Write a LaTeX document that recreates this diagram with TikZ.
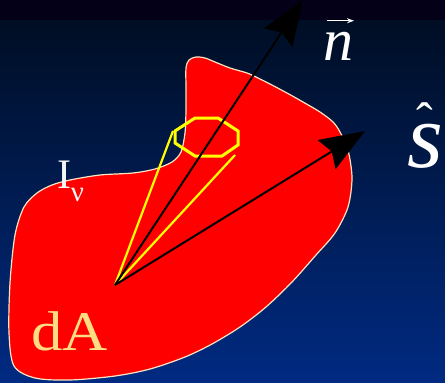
\documentclass[tikz,border=0pt]{standalone}
\usepackage{fontspec}
\setmainfont{Liberation Serif}
\usetikzlibrary{arrows.meta,calc}
\definecolor{bgtop}{RGB}{4,0,24}
\definecolor{bgmid}{RGB}{0,14,36}
\definecolor{bgbot}{RGB}{0,42,130}
\definecolor{blobred}{RGB}{255,0,0}
\definecolor{rim}{RGB}{255,228,196}
\definecolor{dacol}{RGB}{255,220,130}
\definecolor{yel}{RGB}{255,255,0}
\tikzset{
  vec/.style={line width=2pt, black, -{Stealth[length=45pt,width=34pt,inset=6pt]}},
  yline/.style={yel, line width=2.2pt},
  yoct/.style={yel, line width=3pt, line join=miter},
  lab/.style={inner sep=0pt, outer sep=0pt},
}
\begin{document}
\begin{tikzpicture}[x=1pt,y=-1pt]
\useasboundingbox (0,0) rectangle (445,383);
\clip (0,0) rectangle (445,383);
% background
\shade[top color=bgmid,bottom color=bgbot] (0,20) rectangle (445,383);
\fill[bgtop] (0,0) rectangle (445,20);
% red surface element
\filldraw[fill=blobred, draw=rim, line width=1.2pt]
  plot[smooth cycle, tension=0.5] coordinates {
  (186,68) (189,60) (196,57) (205,58) (215,62) (230,68) (247,73) (258,78)
  (270,84) (287,93) (303,102) (320,112) (333,122) (340,132) (348,150)
  (352,178) (348,207) (335,233)
  (316,255) (292,282) (266,307) (240,327) (212,344) (185,357) (150,369)
  (115,376) (70,380) (35,378) (14,366) (9,333) (10,283) (15,235) (24,207)
  (37,193) (52,185) (70,180) (100,175) (133,173) (155,169) (172,162)
  (181,152) (185,133) (186,110) (186,88)};
% points
\coordinate (o) at (115,285);
\coordinate (ntip) at (303,0);
\coordinate (stip) at (365,131);
\coordinate (c1) at (173,131);
\coordinate (c2) at (235,155);
% yellow solid-angle cone
\draw[yline] (o) -- (c1);
\draw[yline] (o) -- (c2);
\draw[yoct] (195,118) -- (218,118) -- (238,131) -- (238,145) -- (222,156)
  -- (195,156) -- (175,143) -- (175,131) -- cycle;
% vectors
\draw[vec] (o) -- (ntip);
\draw[vec] (o) -- (stip);
% labels
\node[lab, anchor=base, text=white, font=\fontsize{60}{60}\selectfont\itshape] (nlab) at (338,60) {n};
\draw[white, line width=1.3pt, -{Stealth[length=7pt,width=5pt]}]
  ($(nlab.north)+(-11pt,11pt)$) -- ($(nlab.north)+(16pt,11pt)$);
\node[lab, anchor=base, text=white] (slab) at (425,167)
  {{\fontsize{92}{92}\selectfont\itshape s}\llap{\raisebox{30pt}{\fontsize{50}{50}\selectfont ˆ}\hspace{10pt}}};
\node[lab, anchor=base west, text=white!92!gray, font=\fontsize{42}{42}\selectfont] (ilab) at (57,188) {I\raisebox{-13pt}{\fontsize{29}{29}\selectfont ν}};
\node[lab, anchor=base west, text=dacol, font=\fontsize{56}{56}\selectfont, xscale=1.12] (dalab) at (31,350) {dA};
\end{tikzpicture}
\end{document}
